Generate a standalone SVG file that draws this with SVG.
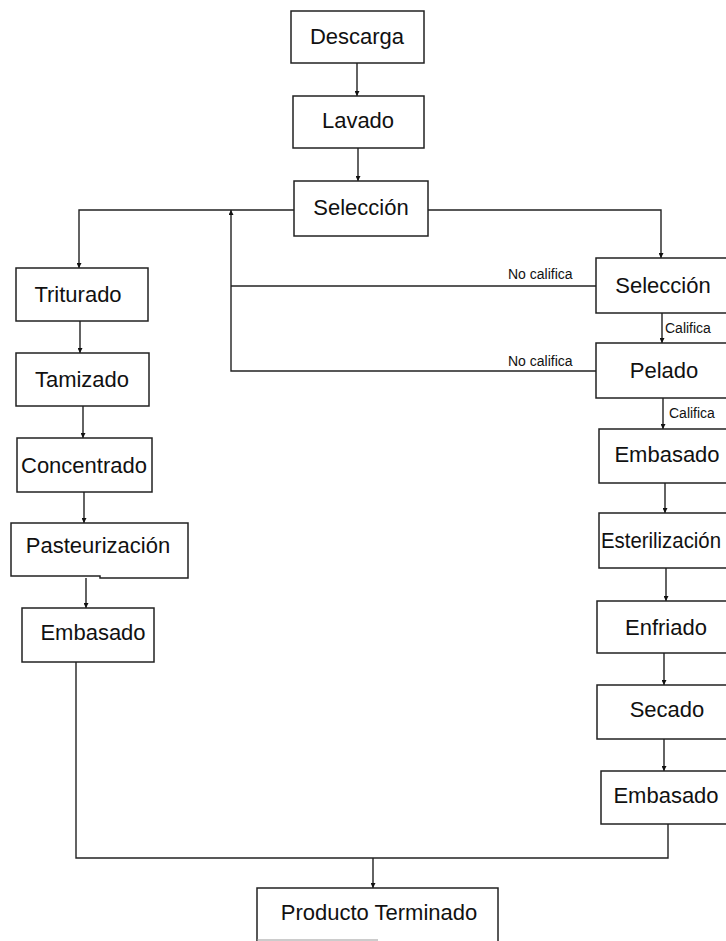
<svg xmlns="http://www.w3.org/2000/svg" width="726" height="941" viewBox="0 0 726 941">
<style>
.box{fill:#fff;stroke:#222;stroke-width:1.5}
.t{font-family:"Liberation Sans",Arial,sans-serif;font-size:22px;fill:#111;text-anchor:middle}
.s{font-family:"Liberation Sans",Arial,sans-serif;font-size:14px;fill:#111}
.c{fill:none;stroke:#222;stroke-width:1.4}
</style>
<defs>
<marker id="ah" viewBox="0 0 8 8" refX="8" refY="4" markerWidth="5" markerHeight="5" markerUnits="userSpaceOnUse" orient="auto">
<path d="M0,0 L8,4 L0,8 Z" fill="#111"/>
</marker>
</defs>
<rect width="726" height="941" fill="#fff"/>
<g id="connectors">
<path class="c" d="M357,63 V96" marker-end="url(#ah)"/>
<path class="c" d="M358,148 V181" marker-end="url(#ah)"/>
<path class="c" d="M294,210 H79 V268" marker-end="url(#ah)"/>
<path class="c" d="M428,210 H661 V258" marker-end="url(#ah)"/>
<path class="c" d="M596,286 H231"/>
<path class="c" d="M596,371 H231 V210" marker-end="url(#ah)"/>
<path class="c" d="M80,321 V353" marker-end="url(#ah)"/>
<path class="c" d="M83,406 V438" marker-end="url(#ah)"/>
<path class="c" d="M84,492 V523" marker-end="url(#ah)"/>
<path class="c" d="M86,578 V608" marker-end="url(#ah)"/>
<path class="c" d="M662,313 V343" marker-end="url(#ah)"/>
<path class="c" d="M663,398 V429" marker-end="url(#ah)"/>
<path class="c" d="M665,483 V513" marker-end="url(#ah)"/>
<path class="c" d="M666,568 V601" marker-end="url(#ah)"/>
<path class="c" d="M664,653 V685" marker-end="url(#ah)"/>
<path class="c" d="M664,739 V771" marker-end="url(#ah)"/>
<path class="c" d="M76,662 V858 H668 V824"/>
<path class="c" d="M373,858 V888" marker-end="url(#ah)"/>
<text class="s" x="508" y="279">No califica</text>
<text class="s" x="508" y="366">No califica</text>
<text class="s" x="665" y="333">Califica</text>
<text class="s" x="669" y="418">Califica</text>
</g>
<g id="descarga"><rect class="box" x="291" y="11" width="133" height="52"/><text class="t" x="357" y="44">Descarga</text></g>
<g id="lavado"><rect class="box" x="293" y="96" width="131" height="52"/><text class="t" x="358" y="128">Lavado</text></g>
<g id="seleccion1"><rect class="box" x="294" y="181" width="134" height="55"/><text class="t" x="361" y="215">Selección</text></g>
<g id="triturado"><rect class="box" x="16" y="268" width="132" height="53"/><text class="t" x="78" y="302">Triturado</text></g>
<g id="tamizado"><rect class="box" x="16" y="353" width="133" height="53"/><text class="t" x="82" y="387">Tamizado</text></g>
<g id="concentrado"><rect class="box" x="17" y="438" width="135" height="54"/><text class="t" x="84" y="473">Concentrado</text></g>
<g id="pasteurizacion"><path class="box" d="M11,523 H188 V578 H100 V576 H11 Z"/><text class="t" x="98" y="553">Pasteurización</text></g>
<g id="embasado1"><rect class="box" x="22" y="608" width="132" height="54"/><text class="t" x="93" y="640">Embasado</text></g>
<g id="seleccion2"><rect class="box" x="596" y="258" width="134" height="55"/><text class="t" x="663" y="293">Selección</text></g>
<g id="pelado"><rect class="box" x="596" y="343" width="134" height="55"/><text class="t" x="664" y="378">Pelado</text></g>
<g id="embasado2"><rect class="box" x="599" y="429" width="131" height="54"/><text class="t" x="667" y="462">Embasado</text></g>
<g id="esterilizacion"><rect class="box" x="599" y="513" width="131" height="55"/><text class="t" x="601" y="548" style="text-anchor:start" textLength="120" lengthAdjust="spacingAndGlyphs">Esterilización</text></g>
<g id="enfriado"><rect class="box" x="597" y="601" width="133" height="52"/><text class="t" x="666" y="635">Enfriado</text></g>
<g id="secado"><rect class="box" x="597" y="685" width="133" height="54"/><text class="t" x="667" y="717">Secado</text></g>
<g id="embasado3"><rect class="box" x="601" y="771" width="129" height="53"/><text class="t" x="666" y="803">Embasado</text></g>
<g id="producto"><rect class="box" x="257" y="888" width="241" height="70"/><line x1="257" y1="940" x2="378" y2="940" stroke="#999" stroke-width="1.2"/><text class="t" x="379" y="920">Producto Terminado</text></g>
</svg>
